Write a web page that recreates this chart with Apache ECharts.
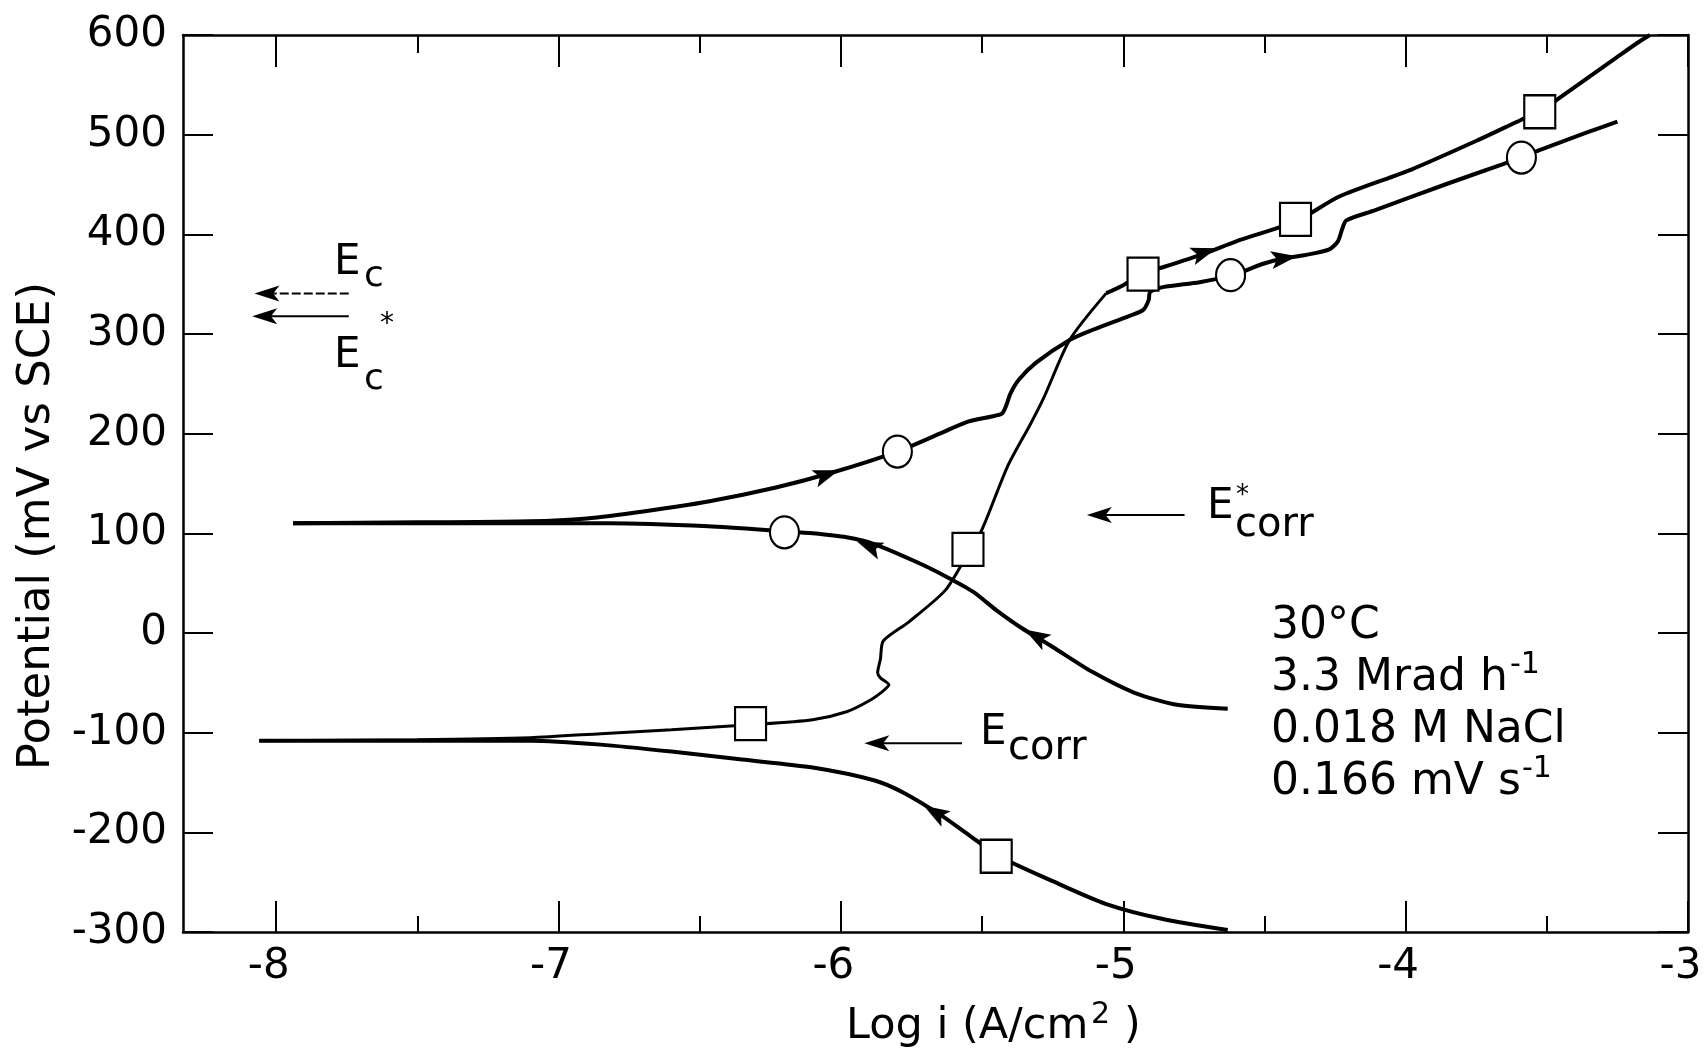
<!DOCTYPE html>
<html><head><meta charset="utf-8">
<script src="https://cdn.jsdelivr.net/npm/echarts@6/dist/echarts.min.js"></script>
<style>html,body{margin:0;padding:0;background:#fff}#c{width:1704px;height:1056px}</style>
</head><body><div id="c"></div>
<script>
// ---- data (log i in A/cm2, potential in mV vs SCE) ----
const xMajorTicks = [-8, -7, -6, -5, -4, -3];
const xMinorTicks = [-7.5, -6.5, -5.5, -4.5, -3.5];

// curve with open circles: anodic sweep (from Ecorr* tip to the right)
const circleAnodic = [[-7.94,110],[-7.5,111],[-7.1,112],[-6.9,115],[-6.7,122],[-6.47,132],[-6.23,146],[-6.03,161],[-5.80,182],[-5.65,200],[-5.55,212],[-5.47,217],[-5.43,220],[-5.415,228],[-5.40,240],[-5.37,254],[-5.31,271],[-5.19,294],[-5.11,304],[-4.98,318],[-4.93,324],[-4.91,334],[-4.905,342],[-4.86,347],[-4.73,352],[-4.61,359],[-4.51,370],[-4.43,376],[-4.36,379],[-4.27,385],[-4.24,393],[-4.225,405],[-4.21,414],[-4.11,424],[-3.86,450],[-3.66,470],[-3.59,477],[-3.54,483],[-3.36,502],[-3.25,513]];
// curve with open circles: cathodic sweep (from right end to the tip)
const circleCathodic = [[-4.63,-76],[-4.81,-72],[-4.96,-60],[-5.11,-39],[-5.25,-14],[-5.36,5],[-5.45,23],[-5.53,41],[-5.63,57],[-5.73,71],[-5.88,89],[-5.98,96],[-6.10,100],[-6.20,102],[-6.47,107],[-6.82,110],[-7.1,110],[-7.94,110]];
// curve with open squares: anodic sweep, thin lower part then thick upper part
const squareAnodicLow = [[-8.06,-108],[-7.5,-107],[-7.1,-105],[-6.85,-101],[-6.60,-97],[-6.32,-92],[-6.10,-87],[-5.98,-79],[-5.90,-68],[-5.85,-58],[-5.83,-52],[-5.86,-45],[-5.87,-40],[-5.86,-26],[-5.85,-8],[-5.76,11],[-5.63,43],[-5.55,80],[-5.50,104],[-5.41,167],[-5.33,209],[-5.28,237],[-5.19,294],[-5.06,341]];
const squareAnodicHigh = [[-5.06,341],[-5.00,349],[-4.93,361],[-4.86,367],[-4.71,381],[-4.60,393],[-4.48,404],[-4.38,414],[-4.235,438],[-3.98,465],[-3.74,495],[-3.59,515],[-3.525,523],[-3.46,536],[-3.36,556],[-3.26,576],[-3.18,592],[-3.135,600]];
// curve with open squares: cathodic sweep
const squareCathodic = [[-4.63,-298],[-4.86,-287],[-5.06,-272],[-5.25,-249],[-5.44,-224],[-5.55,-202],[-5.65,-182],[-5.78,-160],[-5.88,-148],[-6.10,-135],[-6.35,-127],[-6.6,-119],[-6.85,-112],[-7.1,-108],[-7.5,-108],[-8.06,-108]];

const circleMarkers = [[-6.20,101],[-5.80,182],[-4.62,359],[-3.59,477]];
const squareMarkers = [[-6.32,-91],[-5.55,84],[-5.45,-224],[-4.93,360],[-4.39,415],[-3.525,523]];

// direction arrows on the curves: [x, y, xNext, yNext]
const curveArrows = [[-6.05,159,-5.95,169],[-5.90,87,-5.98,96],[-5.31,-3,-5.37,7],[-5.667,-180,-5.72,-171],[-4.713,382,-4.66,387],[-4.43,376,-4.36,379]];
// potential pointers: [tailX, tailY, tipX, tipY]   (Ec, Ec*, Ecorr*, Ecorr)
const potentialArrows = [[-7.743,340.6,-8.077,340.6],[-7.743,317.7,-8.085,317.7],[-4.783,118.5,-5.129,118.5],[-5.571,-110.5,-5.917,-110.5]];

const conditionLines = ['30°C', '3.3 Mrad h', '0.018 M NaCl', '0.166 mV s'];

// ---- chart ----
const FF = 'DejaVu Sans';
const chart = echarts.init(document.getElementById('c'), null, {renderer: 'canvas'});
const XMIN = -8.33, XMAX = -3;

function xAxisDef(pos, ticks, len, showLine, showLabel) {
  return {
    type: 'value', position: pos, min: XMIN, max: XMAX,
    axisLine: {show: showLine, onZero: false, lineStyle: {color: '#000', width: 2.5}},
    axisTick: {show: true, inside: true, length: len, customValues: ticks, lineStyle: {color: '#000', width: 2}},
    axisLabel: {show: showLabel, customValues: ticks, color: '#000', fontSize: 42, fontFamily: FF, margin: 14,
      padding: [0, 15, 0, 0]},
    splitLine: {show: false}
  };
}
function yAxisDef(pos, showLabel) {
  return {
    type: 'value', position: pos, min: -300, max: 600, interval: 100,
    axisLine: {show: true, onZero: false, lineStyle: {color: '#000', width: 2.5}},
    axisTick: {show: true, inside: true, length: 30, lineStyle: {color: '#000', width: 2}},
    axisLabel: {show: showLabel, color: '#000', fontSize: 42, fontFamily: FF, margin: 16},
    splitLine: {show: false}
  };
}
function lineSeries(data, w) {
  return {type: 'line', data: data, xAxisIndex: 0, yAxisIndex: 0, showSymbol: false, symbol: 'none',
    smooth: 0.25, lineStyle: {color: '#000', width: w}, silent: true, z: 2};
}
function renderCurveArrow(params, api) {
  const p = api.coord([api.value(0), api.value(1)]);
  const q = api.coord([api.value(2), api.value(3)]);
  const a = Math.atan2(q[1]-p[1], q[0]-p[0]), c = Math.cos(a), s = Math.sin(a);
  const L = 26, W = 9;
  const tip = [p[0]+c*L/2, p[1]+s*L/2];
  const b = [p[0]-c*L/2, p[1]-s*L/2];
  const notch = [p[0]-c*L*0.28, p[1]-s*L*0.28];
  return {type: 'polygon', shape: {points: [tip, [b[0]-s*W, b[1]+c*W], notch, [b[0]+s*W, b[1]-c*W]]}, style: {fill: '#000'}};
}
function renderPointer(params, api) {
  const t = api.coord([api.value(0), api.value(1)]);
  const h = api.coord([api.value(2), api.value(3)]);
  const a = Math.atan2(h[1]-t[1], h[0]-t[0]), c = Math.cos(a), s = Math.sin(a);
  const L = 25, W = 8;
  const base = [h[0]-c*L, h[1]-s*L];
  const notch = [h[0]-c*L*0.75, h[1]-s*L*0.75];
  return {type: 'group', children: [
    {type: 'line', shape: {x1: t[0], y1: t[1], x2: notch[0], y2: notch[1]},
      style: {stroke: '#000', lineWidth: 2, lineDash: params.dataIndex === 0 ? [9, 3] : null}},
    {type: 'polygon', shape: {points: [h, [base[0]-s*W, base[1]+c*W], notch, [base[0]+s*W, base[1]-c*W]]}, style: {fill: '#000'}}
  ]};
}
function txt(x, y, text, size, extra) {
  return Object.assign({type: 'text', x: x, y: y, silent: true,
    style: {text: text, fontSize: size, fontFamily: FF, fill: '#000', align: 'left', verticalAlign: 'middle'}}, extra || {});
}

const graphics = [
  txt(37.5, 526, '', 45, {rotation: Math.PI/2, style: {text: 'Potential (mV vs SCE)', fontSize: 45, fontFamily: FF, fill: '#000', align: 'center', verticalAlign: 'middle'}}),
  txt(846, 1027, 'Log i (A/cm', 43),
  txt(1091, 1015, '2', 30),
  txt(1124, 1027, ')', 43),
  // Ec and Ec*
  txt(334, 263.5, 'E', 42), txt(364, 276.5, 'c', 36),
  txt(334, 356, 'E', 42), txt(364, 379.5, 'c', 36), txt(380, 325, '*', 28),
  // Ecorr*
  txt(1207, 507, 'E', 42), txt(1236, 496, '*', 26), txt(1235, 525.5, 'corr', 40),
  // Ecorr
  txt(980, 733.5, 'E', 42), txt(1008, 748.5, 'corr', 40),
  // conditions
  txt(1271, 627, conditionLines[0], 44),
  txt(1271, 679, conditionLines[1], 44), txt(1510, 665, '-1', 30),
  txt(1271, 731, conditionLines[2], 44),
  txt(1271, 783, conditionLines[3], 44), txt(1522, 769, '-1', 30)
];

chart.setOption({
  animation: false,
  backgroundColor: '#fff',
  grid: {left: 183, right: 16, top: 35, bottom: 124, containLabel: false, outerBoundsMode: 'none'},
  xAxis: [
    xAxisDef('bottom', xMajorTicks, 31, true, true),
    xAxisDef('bottom', xMinorTicks, 16, false, false),
    xAxisDef('top', xMajorTicks, 32, true, false),
    xAxisDef('top', xMinorTicks, 18, false, false)
  ],
  yAxis: [yAxisDef('left', true), yAxisDef('right', false)],
  graphic: graphics,
  series: [
    lineSeries(circleAnodic, 4),
    lineSeries(circleCathodic, 4),
    lineSeries(squareAnodicLow, 3),
    lineSeries(squareAnodicHigh, 4),
    lineSeries(squareCathodic, 4),
    {type: 'custom', data: curveArrows, renderItem: renderCurveArrow, clip: false, z: 3, silent: true,
      encode: {x: [0, 2], y: [1, 3]}},
    {type: 'custom', data: potentialArrows, renderItem: renderPointer, clip: false, z: 3, silent: true,
      encode: {x: [0, 2], y: [1, 3]}},
    {type: 'scatter', data: circleMarkers, symbol: 'circle', symbolSize: [29, 32], z: 5, silent: true,
      itemStyle: {color: '#fff', borderColor: '#000', borderWidth: 2.2, opacity: 1}},
    {type: 'scatter', data: squareMarkers, symbol: 'rect', symbolSize: [31, 33], z: 5, silent: true,
      itemStyle: {color: '#fff', borderColor: '#000', borderWidth: 2.2, opacity: 1}}
  ]
});
</script>
</body></html>
